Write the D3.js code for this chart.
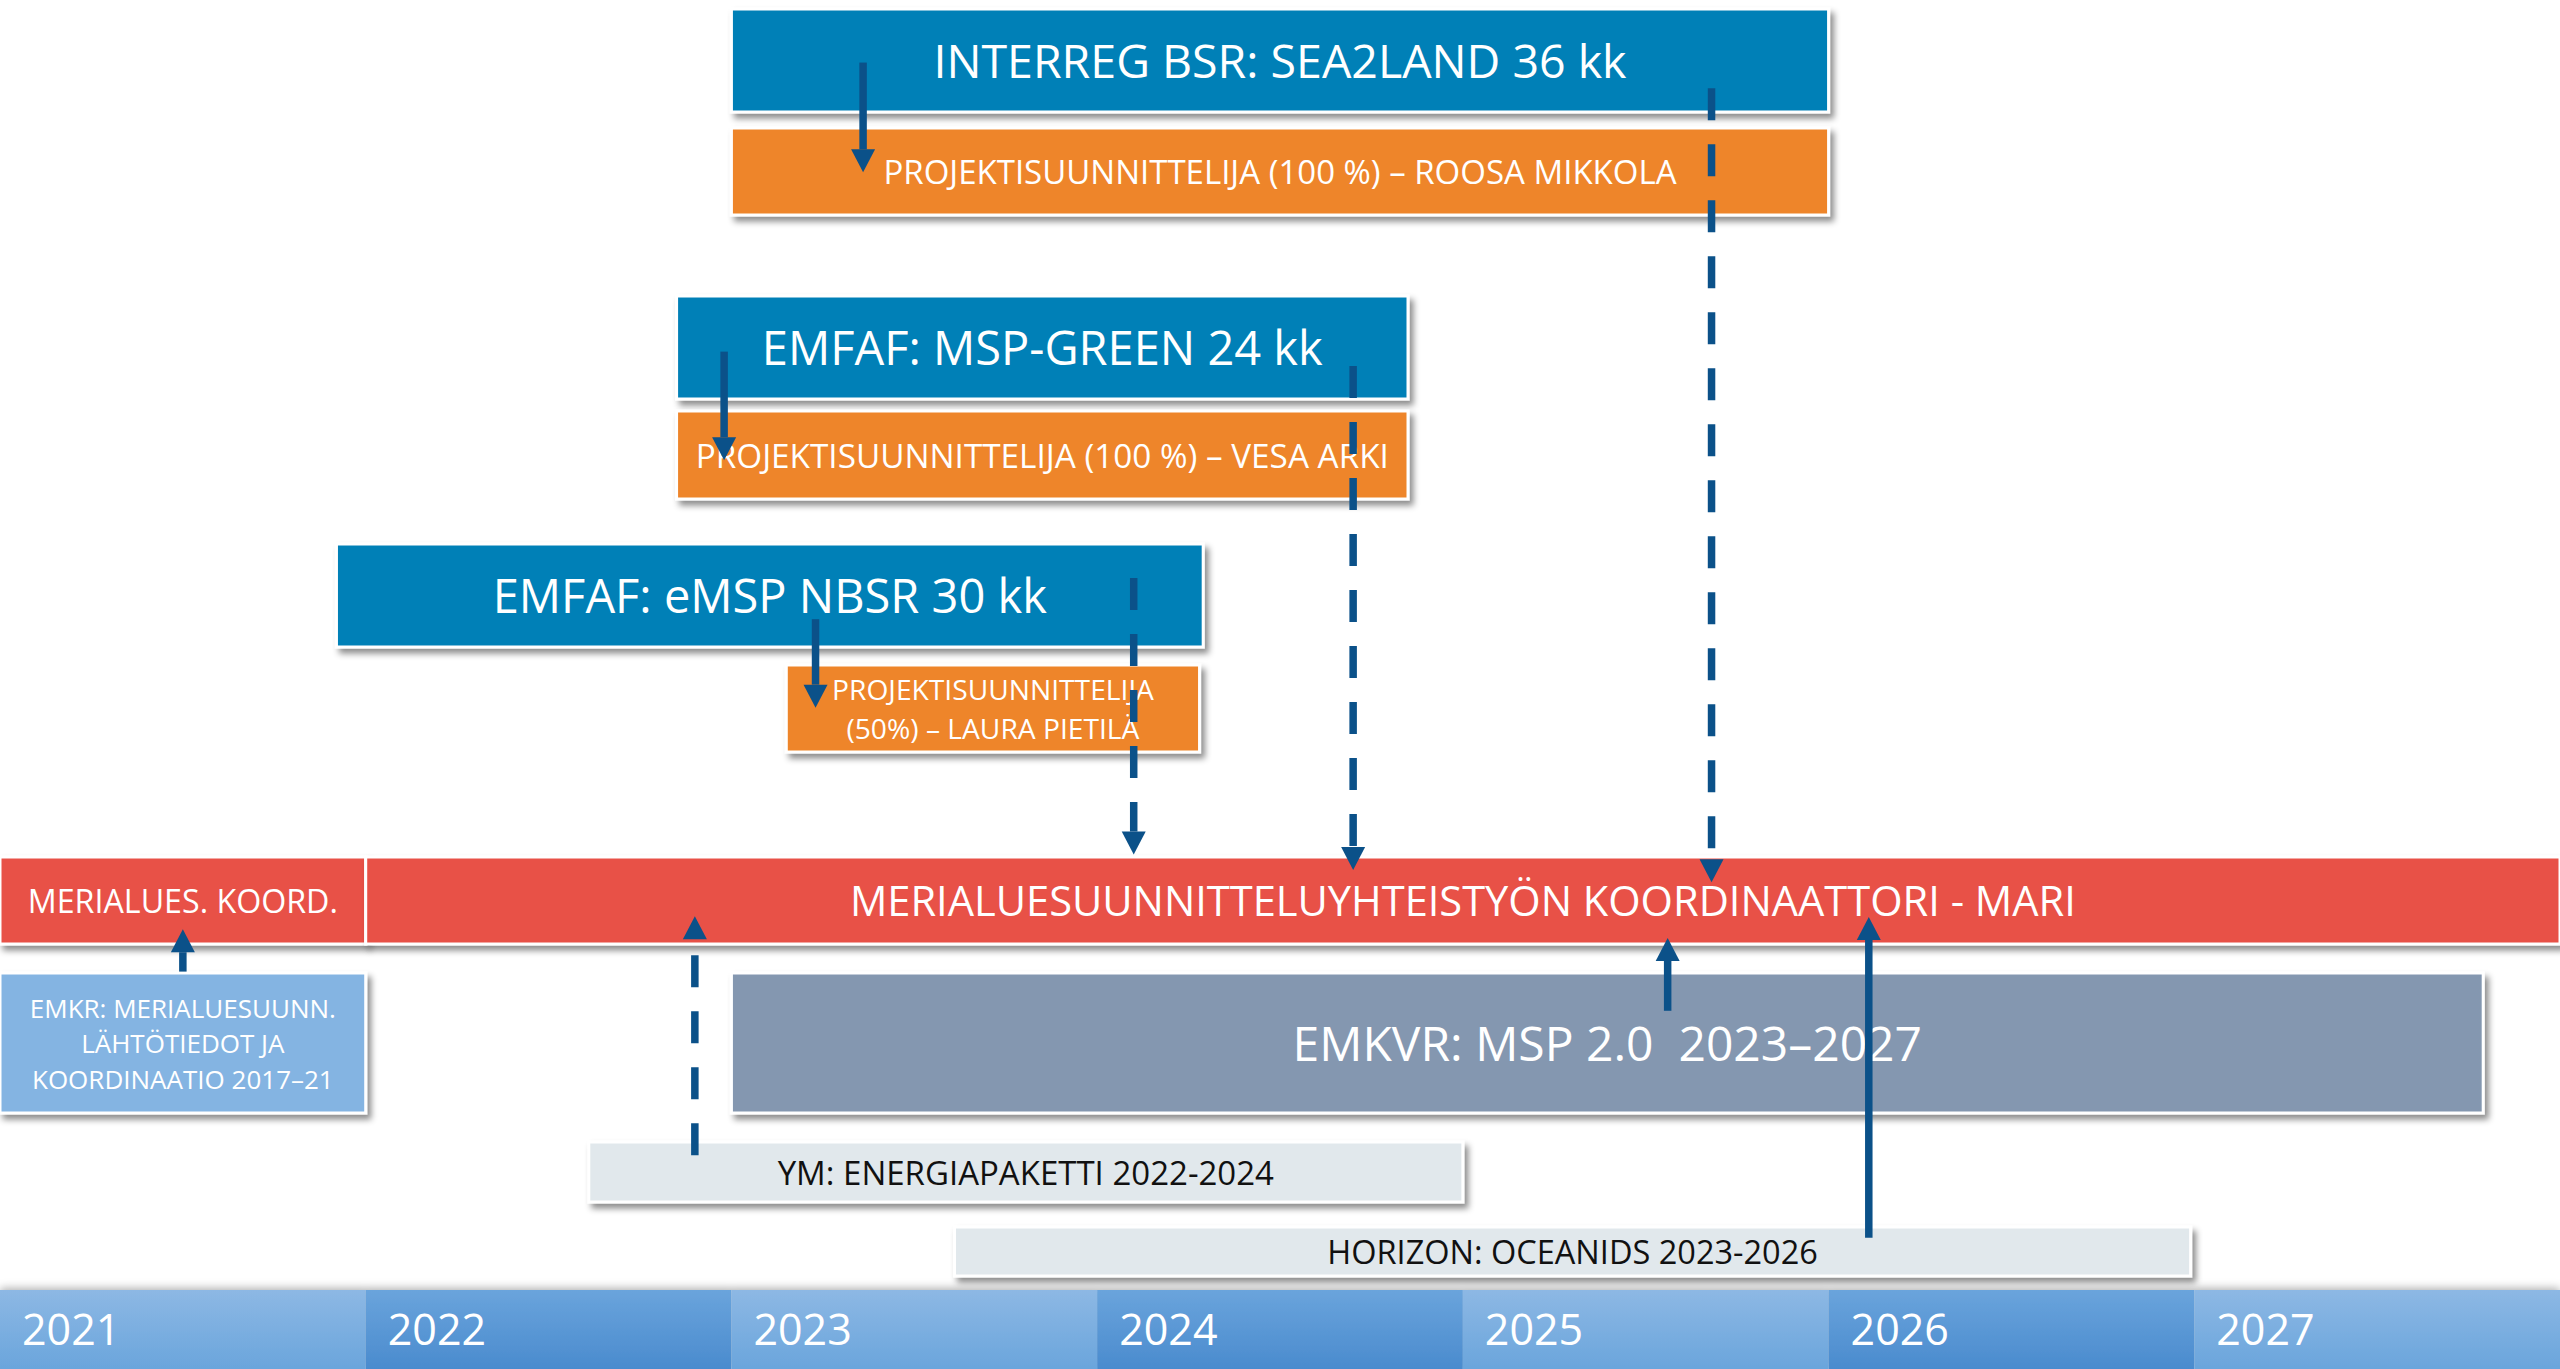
<!DOCTYPE html>
<html>
<head>
<meta charset="utf-8">
<script src="https://cdn.jsdelivr.net/npm/d3@7"></script>
<style>
  html, body { margin: 0; padding: 0; background: #fff; }
  svg { display: block; }
  text { font-family: "Open Sans", "Lato", sans-serif; }
</style>
</head>
<body>
<svg id="chart"></svg>
<script>
// --- données ---
var years = [2021, 2022, 2023, 2024, 2025, 2026, 2027];

var boxLabels = [
  ["INTERREG BSR: SEA2LAND 36 kk"],
  ["PROJEKTISUUNNITTELIJA (100 %) – ROOSA MIKKOLA"],
  ["EMFAF: MSP-GREEN 24 kk"],
  ["PROJEKTISUUNNITTELIJA (100 %) – VESA ARKI"],
  ["EMFAF: eMSP NBSR 30 kk"],
  ["PROJEKTISUUNNITTELIJA", "(50%) – LAURA PIETILÄ"],
  ["MERIALUES. KOORD."],
  ["MERIALUESUUNNITTELUYHTEISTYÖN KOORDINAATTORI - MARI"],
  ["EMKR: MERIALUESUUNN.", "LÄHTÖTIEDOT JA", "KOORDINAATIO 2017–21"],
  ["EMKVR: MSP 2.0  2023–2027"],
  ["YM: ENERGIAPAKETTI 2022-2024"],
  ["HORIZON: OCEANIDS 2023-2026"]
];
var boxStart = [2023.0, 2023.0, 2022.85, 2022.85, 2021.92, 2023.15, 2021.0, 2022.0, 2021.0, 2023.0, 2022.61, 2023.61];
var boxEnd   = [2026.0, 2026.0, 2024.85, 2024.85, 2024.29, 2024.28, 2022.0, 2028.0, 2022.0, 2027.79, 2025.0, 2026.99];
var boxRow   = ["sea2land", "sea2landStaff", "mspGreen", "mspGreenStaff", "emsp", "emspStaff",
                "coord", "coord", "funding", "funding", "ym", "horizon"];
var boxKind  = ["project", "staff", "project", "staff", "project", "staff",
                "coordinator", "coordinator", "emkr", "emkvr", "national", "national"];

// flèches : position (année), rangée de départ / d'arrivée, pointillés ou non
var arrowYear   = [2023.36, 2025.68, 2022.98, 2024.70, 2023.23, 2024.10, 2021.50, 2022.90, 2025.56, 2026.11];
var arrowFrom   = ["sea2land", "sea2land", "mspGreen", "mspGreen", "emsp", "emsp", "funding", "ym", "funding", "horizon"];
var arrowTo     = ["sea2landStaff", "coord", "mspGreenStaff", "coord", "emspStaff", "coord", "coord", "coord", "coord", "coord"];
var arrowDashed = [false, true, false, true, false, true, false, true, false, false];

// --- mise en page ---
var W = 2560, H = 1369;
var rows = { // haut / bas de chaque rangée, en px
  sea2land: [9, 112], sea2landStaff: [128, 215],
  mspGreen: [296, 399], mspGreenStaff: [411, 499],
  emsp: [544, 647], emspStaff: [665, 752],
  coord: [857, 944], funding: [973, 1113],
  ym: [1142, 1202], horizon: [1227, 1276],
  timeline: [1290, 1369]
};
// où la flèche part / arrive dans la rangée (fraction de hauteur)
var arrowFromFrac = [0.52, 0.77, 0.54, 0.68, 0.73, 0.33, -0.01, 0.22, 0.27, 0.22];
var arrowToFrac   = [0.51, 0.29, 0.56, 0.15, 0.49, -0.03, 0.83, 0.68, 0.93, 0.69];
var labelSize = [46.5, 33, 47, 33.3, 47, 28.2, 32.2, 41.6, 26, 48, 33, 32.5];
var yearSize = 43;

var fills = {
  project: "#0580b7", staff: "#ee8529", coordinator: "#e85147",
  emkr: "#84b4e2", emkvr: "#8497b0", national: "#e1e8ec"
};
var arrowColor = "#0b5189";
var capRatio = 0.714; // hauteur des capitales d'Open Sans

var x = d3.scaleLinear().domain([2021, 2028]).range([0, W]);
var rowY = function(r, f) { return rows[r][0] + f * (rows[r][1] - rows[r][0]); };

var svg = d3.select("#chart").attr("width", W).attr("height", H);
var defs = svg.append("defs");

defs.append("filter").attr("id", "shadow")
  .attr("x", "-5%").attr("y", "-20%").attr("width", "115%").attr("height", "160%")
  .append("feDropShadow")
  .attr("dx", 4).attr("dy", 5).attr("stdDeviation", 3)
  .attr("flood-color", "#000").attr("flood-opacity", 0.45);

defs.append("filter").attr("id", "glow")
  .attr("x", "-2%").attr("y", "-40%").attr("width", "104%").attr("height", "160%")
  .append("feDropShadow")
  .attr("dx", 0).attr("dy", -2).attr("stdDeviation", 4)
  .attr("flood-color", "#000").attr("flood-opacity", 0.3);

function grad(id, top, bottom) {
  var g = defs.append("linearGradient").attr("id", id)
    .attr("x1", 0).attr("y1", 0).attr("x2", 0).attr("y2", 1);
  g.append("stop").attr("offset", "0%").attr("stop-color", top);
  g.append("stop").attr("offset", "100%").attr("stop-color", bottom);
}
grad("yearLight", "#8db8e4", "#6aa5dc");
grad("yearDark", "#6aa4dc", "#4a8bce");

function label(g, str, cx, baseline, size, color, anchor) {
  return g.append("text")
    .attr("x", cx).attr("y", baseline)
    .attr("text-anchor", anchor || "middle")
    .attr("font-size", size)
    .attr("fill", color)
    .style("white-space", "pre")
    .text(str);
}

//////////// frise des années ////////////
var tl = svg.append("g").attr("filter", "url(#glow)");
tl.selectAll("rect")
  .data(years)
  .enter()
  .append("rect")
  .attr("x", d => x(d))
  .attr("y", rows.timeline[0])
  .attr("width", d => x(d + 1) - x(d))
  .attr("height", rows.timeline[1] - rows.timeline[0])
  .attr("fill", (d, i) => i % 2 ? "url(#yearDark)" : "url(#yearLight)");

var tlText = svg.append("g");
years.forEach(function(d) {
  var cy = (rows.timeline[0] + rows.timeline[1]) / 2;
  label(tlText, String(d), x(d) + 22, cy + yearSize * capRatio / 2, yearSize, "#fff", "start");
});

//////////// boîtes ////////////
var boxes = svg.append("g");
boxLabels.forEach(function(lines, i) {
  var r = rows[boxRow[i]];
  var x0 = x(boxStart[i]), x1 = x(boxEnd[i]);
  boxes.append("rect")
    .attr("x", x0).attr("y", r[0])
    .attr("width", x1 - x0).attr("height", r[1] - r[0])
    .attr("fill", fills[boxKind[i]])
    .attr("stroke", "#fff").attr("stroke-width", 3)
    .attr("filter", "url(#shadow)");
});
boxLabels.forEach(function(lines, i) {
  var r = rows[boxRow[i]];
  var cx = (x(boxStart[i]) + x(boxEnd[i])) / 2;
  var cy = (r[0] + r[1]) / 2 + 1;
  var size = labelSize[i];
  var lh = size * 1.36;
  var color = boxKind[i] == "national" ? "#111" : "#fff";
  lines.forEach(function(str, j) {
    var base = cy + (j - (lines.length - 1) / 2) * lh + size * capRatio / 2;
    label(boxes, str, cx, base, size, color);
  });
});

//////////// flèches ////////////
var arrows = svg.append("g");
var headLen = 23, headHalf = 12;
arrowYear.forEach(function(yr, i) {
  var ax = x(yr);
  var y0 = rowY(arrowFrom[i], arrowFromFrac[i]);
  var y1 = rowY(arrowTo[i], arrowToFrac[i]);
  var dir = y1 > y0 ? 1 : -1;
  var yBase = y1 - dir * headLen;
  arrows.append("line")
    .attr("x1", ax).attr("y1", y0)
    .attr("x2", ax).attr("y2", yBase)
    .attr("stroke", arrowColor)
    .attr("stroke-width", 7.5)
    .attr("stroke-dasharray", arrowDashed[i] ? "32 24" : null);
  arrows.append("path")
    .attr("d", d3.line()([[ax - headHalf, yBase], [ax + headHalf, yBase], [ax, y1]]) + "Z")
    .attr("fill", arrowColor);
});
</script>
</body>
</html>
